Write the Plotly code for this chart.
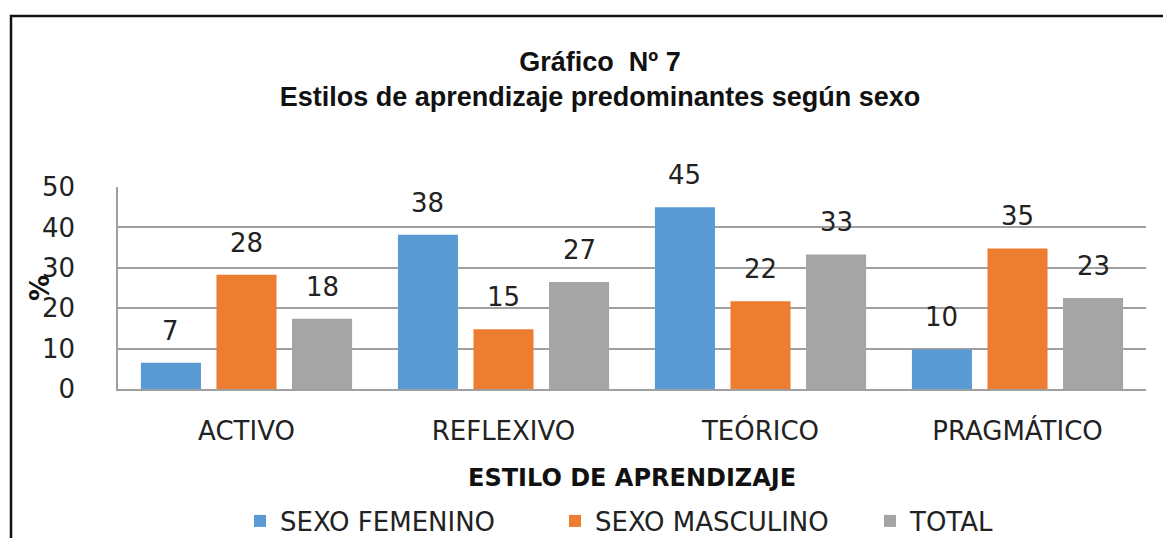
import plotly.graph_objects as go

categories = ["ACTIVO", "REFLEXIVO", "TEÓRICO", "PRAGMÁTICO"]
series_names = ["SEXO FEMENINO", "SEXO MASCULINO", "TOTAL"]
femenino = [6.5, 38.2, 45.0, 9.8]
masculino = [28.3, 14.8, 21.7, 34.8]
total = [17.4, 26.5, 33.3, 22.5]
femenino_labels = ["7", "38", "45", "10"]
masculino_labels = ["28", "15", "22", "35"]
total_labels = ["18", "27", "33", "23"]
y_ticks = [0, 10, 20, 30, 40, 50]

colors = ["#5B9BD5", "#ED7D31", "#A5A5A5"]
values = [femenino, masculino, total]
labels = [femenino_labels, masculino_labels, total_labels]

BARGAP = 0.118
BARGROUPGAP = 0.205
TXT = "DejaVu Sans"

# page has an 8px body margin; lay out in figure coordinates
W, H = 1155, 530
L, T = 110, 179
PW, PH = 1028, 202
R = W - L - PW
B = H - T - PH
BOTTOM = T + PH  # y of plot bottom in figure px

def px_x(x):
    return (x - L) / PW

def px_y(y):
    return (BOTTOM - y) / PH

fig = go.Figure()
for name, vals, col in zip(series_names, values, colors):
    fig.add_trace(go.Bar(x=categories, y=vals, name=name, marker_color=col,
                         marker_line_width=0))

n = len(series_names)
slot = (1 - BARGAP) / n
annotations = []
for j, (vals, labs) in enumerate(zip(values, labels)):
    for i, (v, t) in enumerate(zip(vals, labs)):
        annotations.append(dict(x=i + (j - (n - 1) / 2) * slot, y=v, xref="x", yref="y",
                                text=t, showarrow=False, yanchor="middle", yshift=32,
                                font=dict(family=TXT, size=26, color="#222222")))
annotations.append(dict(x=px_x(32), y=0.5, xref="paper", yref="paper",
                        text="<b>%</b>", textangle=-90, showarrow=False,
                        xanchor="center", yanchor="middle",
                        font=dict(family=TXT, size=26, color="#111111")))
annotations.append(dict(x=0.5, y=px_y(470), xref="paper", yref="paper",
                        text="<b>ESTILO DE APRENDIZAJE</b>", showarrow=False,
                        xanchor="center", yanchor="middle",
                        font=dict(family=TXT, size=24, color="#111111")))

fig.update_layout(
    width=W, height=H,
    margin=dict(l=L, r=R, t=T, b=B, autoexpand=False),
    paper_bgcolor="white", plot_bgcolor="white",
    barmode="group", bargap=BARGAP, bargroupgap=BARGROUPGAP,
    title=dict(text="<b>Gráfico\u00a0 Nº 7<br>Estilos de aprendizaje predominantes según sexo</b>",
               x=592 / W, xref="container", xanchor="center",
               y=1 - 63 / H, yref="container", yanchor="middle",
               font=dict(family="Liberation Sans", size=27, color="#111111")),
    xaxis=dict(type="category", showgrid=False, showline=True, linecolor="#A0A0A0",
               linewidth=1.5, ticks="", ticklabelstandoff=18, automargin=False,
               tickfont=dict(family=TXT, size=26, color="#222222")),
    yaxis=dict(range=[0, 50], tickvals=y_ticks, showgrid=True, gridcolor="#A0A0A0",
               gridwidth=1.5, showline=True, linecolor="#A0A0A0", linewidth=1.5,
               zeroline=False, ticks="", ticklabelstandoff=36, automargin=False,
               tickfont=dict(family=TXT, size=26, color="#222222")),
    legend=dict(orientation="h", x=px_x(232), xanchor="left",
                y=px_y(513), yanchor="middle", entrywidth=270,
                font=dict(family=TXT, size=26, color="#222222"),
                itemsizing="constant", bgcolor="rgba(0,0,0,0)"),
    annotations=annotations,
    shapes=[dict(type="rect", xref="paper", yref="paper",
                 x0=px_x(3), x1=px_x(1180),
                 y0=px_y(560), y1=px_y(8),
                 line=dict(color="#111111", width=2.5), fillcolor="rgba(0,0,0,0)",
                 layer="below")],
)

fig.write_html("out.html")
